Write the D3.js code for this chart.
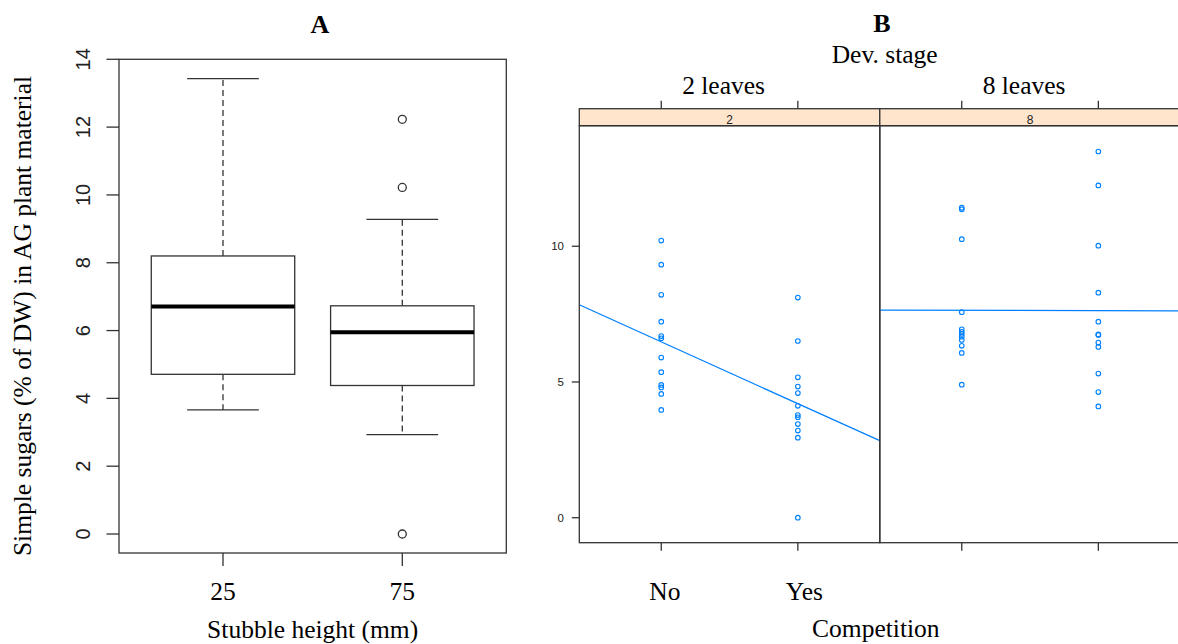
<!DOCTYPE html>
<html>
<head>
<meta charset="utf-8">
<script src="https://cdn.jsdelivr.net/npm/d3@7"></script>
<style>
  html, body { margin: 0; padding: 0; background: #fff; }
  svg { display: block; }
</style>
</head>
<body>
<svg id="chart" width="1178" height="644"></svg>
<script>
// ---------- Panel A data (boxplot statistics, % of DW) ----------
const stubbleHeights = ["25", "75"];
const whiskerLow  = [3.66, 2.93];
const quart1      = [4.71, 4.38];
const medians     = [6.71, 5.95];
const quart3      = [8.20, 6.73];
const whiskerHigh = [13.43, 9.28];
const outliers25  = [];
const outliers75  = [12.23, 10.22, 0.0];
const yTicksA     = [0, 2, 4, 6, 8, 10, 12, 14];

// ---------- Panel B data ----------
const competitionLevels = ["No", "Yes"];
const devStages   = ["2 leaves", "8 leaves"];
const stripLabels = ["2", "8"];
const stage2No  = [10.21, 9.32, 8.21, 7.22, 6.69, 6.61, 5.90, 5.36, 4.89, 4.80, 4.56, 3.97];
const stage2Yes = [8.11, 6.51, 5.17, 4.83, 4.59, 4.12, 3.78, 3.70, 3.45, 3.21, 2.95, 0.00];
const stage8No  = [11.42, 11.36, 10.26, 7.57, 6.94, 6.85, 6.77, 6.67, 6.55, 6.33, 6.07, 4.90];
const stage8Yes = [13.49, 12.24, 10.02, 8.29, 7.22, 6.75, 6.73, 6.45, 6.29, 5.31, 4.63, 4.10];
const yTicksB   = [0, 5, 10];

const SERIF = "'Liberation Serif', 'Times New Roman', serif";
const SANS  = "'Liberation Sans', Arial, sans-serif";
const LINE  = "#333";
const BLUE  = "#0080ff";

const svg = d3.select("#chart");

// ================= PANEL A =================
const A = { left: 119, right: 506.3, top: 59.3, bottom: 553 };
const xA = d3.scaleLinear().domain([0.42, 2.58]).range([A.left, A.right]);
const yA = d3.scaleLinear().domain([-0.56, 14.0]).range([A.bottom, A.top]);
const gA = svg.append("g");

// title
gA.append("text").attr("x", 320).attr("y", 32.5).attr("text-anchor", "middle")
  .attr("font-family", SERIF).attr("font-weight", "bold").attr("font-size", 26).text("A");

const boxes = stubbleHeights.map((h, i) => ({
  h, i, pos: i + 1, lo: whiskerLow[i], q1: quart1[i], med: medians[i], q3: quart3[i], hi: whiskerHigh[i],
  out: i === 0 ? outliers25 : outliers75
}));
const boxW = 0.8, stapleW = 0.4;
boxes.forEach(b => {
  const g = gA.append("g");
  // whiskers (dashed)
  g.append("line").attr("x1", xA(b.pos)).attr("x2", xA(b.pos)).attr("y1", yA(b.q3)).attr("y2", yA(b.hi))
    .attr("stroke", LINE).attr("stroke-width", 1.3).attr("stroke-dasharray", "6,4");
  g.append("line").attr("x1", xA(b.pos)).attr("x2", xA(b.pos)).attr("y1", yA(b.q1)).attr("y2", yA(b.lo))
    .attr("stroke", LINE).attr("stroke-width", 1.3).attr("stroke-dasharray", "6,4");
  // staples
  [b.hi, b.lo].forEach(v => {
    g.append("line").attr("x1", xA(b.pos - stapleW / 2)).attr("x2", xA(b.pos + stapleW / 2))
      .attr("y1", yA(v)).attr("y2", yA(v)).attr("stroke", LINE).attr("stroke-width", 1.3);
  });
  // box
  g.append("rect").attr("x", xA(b.pos - boxW / 2)).attr("y", yA(b.q3))
    .attr("width", xA(b.pos + boxW / 2) - xA(b.pos - boxW / 2)).attr("height", yA(b.q1) - yA(b.q3))
    .attr("fill", "white").attr("stroke", LINE).attr("stroke-width", 1.3);
  // median
  g.append("line").attr("x1", xA(b.pos - boxW / 2)).attr("x2", xA(b.pos + boxW / 2))
    .attr("y1", yA(b.med)).attr("y2", yA(b.med)).attr("stroke", "#000").attr("stroke-width", 4);
  // outliers
  b.out.forEach(v => {
    g.append("circle").attr("cx", xA(b.pos)).attr("cy", yA(v)).attr("r", 4)
      .attr("fill", "none").attr("stroke", LINE).attr("stroke-width", 1.3);
  });
});

// frame
gA.append("rect").attr("x", A.left).attr("y", A.top).attr("width", A.right - A.left).attr("height", A.bottom - A.top)
  .attr("fill", "none").attr("stroke", LINE).attr("stroke-width", 1.3);

// y axis
yTicksA.forEach(t => {
  gA.append("line").attr("x1", A.left - 12.5).attr("x2", A.left).attr("y1", yA(t)).attr("y2", yA(t))
    .attr("stroke", LINE).attr("stroke-width", 1.3);
  gA.append("text").attr("transform", `translate(89.5,${yA(t)}) rotate(-90)`).attr("text-anchor", "middle")
    .attr("font-family", SANS).attr("font-size", 20).attr("fill", "#222").text(t);
});
// x axis
stubbleHeights.forEach((h, i) => {
  gA.append("line").attr("x1", xA(i + 1)).attr("x2", xA(i + 1)).attr("y1", A.bottom).attr("y2", A.bottom + 13)
    .attr("stroke", LINE).attr("stroke-width", 1.3);
  gA.append("text").attr("x", xA(i + 1)).attr("y", 600).attr("text-anchor", "middle")
    .attr("font-family", SERIF).attr("font-size", 25.5).text(h);
});
gA.append("text").attr("x", (A.left + A.right) / 2).attr("y", 638).attr("text-anchor", "middle")
  .attr("font-family", SERIF).attr("font-size", 25.5).text("Stubble height (mm)");
gA.append("text").attr("transform", `translate(31,316) rotate(-90)`).attr("text-anchor", "middle")
  .attr("font-family", SERIF).attr("font-size", 25.5).text("Simple sugars (% of DW) in AG plant material");

// ================= PANEL B =================
const B = { left: 579.3, panelW: 300.5, top: 125.7, bottom: 542.7, stripTop: 108.7 };
const yB = d3.scaleLinear().domain([-0.92, 14.44]).range([B.bottom, B.top]);
const gB = svg.append("g");

gB.append("text").attr("x", 882).attr("y", 32.3).attr("text-anchor", "middle")
  .attr("font-family", SERIF).attr("font-weight", "bold").attr("font-size", 26).text("B");
gB.append("text").attr("x", 884.7).attr("y", 63.3).attr("text-anchor", "middle")
  .attr("font-family", SERIF).attr("font-size", 25.5).text("Dev. stage");

const panels = [
  { stage: devStages[0], strip: stripLabels[0], groups: [stage2No, stage2Yes] },
  { stage: devStages[1], strip: stripLabels[1], groups: [stage8No, stage8Yes] }
];

panels.forEach((p, k) => {
  const x0 = B.left + k * B.panelW;
  const xB = d3.scaleLinear().domain([0.4, 2.6]).range([x0, x0 + B.panelW]);
  const g = gB.append("g");
  const clipId = "clip" + k;
  g.append("clipPath").attr("id", clipId).append("rect")
    .attr("x", x0).attr("y", B.top).attr("width", B.panelW).attr("height", B.bottom - B.top);

  // regression line (least squares on x = 1, 2)
  const pts = [];
  p.groups.forEach((arr, j) => arr.forEach(v => pts.push([j + 1, v])));
  const mx = d3.mean(pts, d => d[0]), my = d3.mean(pts, d => d[1]);
  const slope = d3.sum(pts, d => (d[0] - mx) * (d[1] - my)) / d3.sum(pts, d => (d[0] - mx) ** 2);
  const icpt = my - slope * mx;
  g.append("line").attr("clip-path", `url(#${clipId})`)
    .attr("x1", xB(0.4)).attr("y1", yB(icpt + slope * 0.4))
    .attr("x2", xB(2.6)).attr("y2", yB(icpt + slope * 2.6))
    .attr("stroke", BLUE).attr("stroke-width", 1.3);

  // points
  p.groups.forEach((arr, j) => {
    g.selectAll(null).data(arr).enter().append("circle")
      .attr("cx", xB(j + 1)).attr("cy", d => yB(d)).attr("r", 2.3)
      .attr("fill", "none").attr("stroke", BLUE).attr("stroke-width", 1.1);
  });

  // strip
  g.append("rect").attr("x", x0).attr("y", B.stripTop).attr("width", B.panelW).attr("height", B.top - B.stripTop)
    .attr("fill", "#ffe5cc").attr("stroke", LINE).attr("stroke-width", 1.3);
  g.append("text").attr("x", x0 + B.panelW / 2).attr("y", 124).attr("text-anchor", "middle")
    .attr("font-family", SANS).attr("font-size", 12).attr("fill", "#222").text(p.strip);

  // frame
  g.append("rect").attr("x", x0).attr("y", B.top).attr("width", B.panelW).attr("height", B.bottom - B.top)
    .attr("fill", "none").attr("stroke", LINE).attr("stroke-width", 1.3);

  // ticks top & bottom
  [1, 2].forEach(c => {
    g.append("line").attr("x1", xB(c)).attr("x2", xB(c)).attr("y1", B.stripTop).attr("y2", B.stripTop - 8)
      .attr("stroke", LINE).attr("stroke-width", 1.3);
    g.append("line").attr("x1", xB(c)).attr("x2", xB(c)).attr("y1", B.bottom).attr("y2", B.bottom + 8)
      .attr("stroke", LINE).attr("stroke-width", 1.3);
  });
  // stage label on top
  g.append("text").attr("x", x0 + B.panelW / 2 - 6).attr("y", 94.3).attr("text-anchor", "middle")
    .attr("font-family", SERIF).attr("font-size", 25.5).text(p.stage);

  // competition labels (first panel only)
  if (k === 0) {
    competitionLevels.forEach((lab, j) => {
      g.append("text").attr("x", xB(j + 1) - 12).attr("y", 600).attr("text-anchor", "start")
        .attr("font-family", SERIF).attr("font-size", 25.5).text(lab);
    });
  }
});

// y axis (left of first panel)
yTicksB.forEach(t => {
  gB.append("line").attr("x1", B.left - 7.5).attr("x2", B.left).attr("y1", yB(t)).attr("y2", yB(t))
    .attr("stroke", LINE).attr("stroke-width", 1.3);
  gB.append("text").attr("x", 564).attr("y", yB(t)).attr("dy", "0.35em").attr("text-anchor", "end")
    .attr("font-family", SANS).attr("font-size", 11.5).attr("fill", "#222").text(t);
});

gB.append("text").attr("x", 875.8).attr("y", 637.3).attr("text-anchor", "middle")
  .attr("font-family", SERIF).attr("font-size", 25.5).text("Competition");
</script>
</body>
</html>
